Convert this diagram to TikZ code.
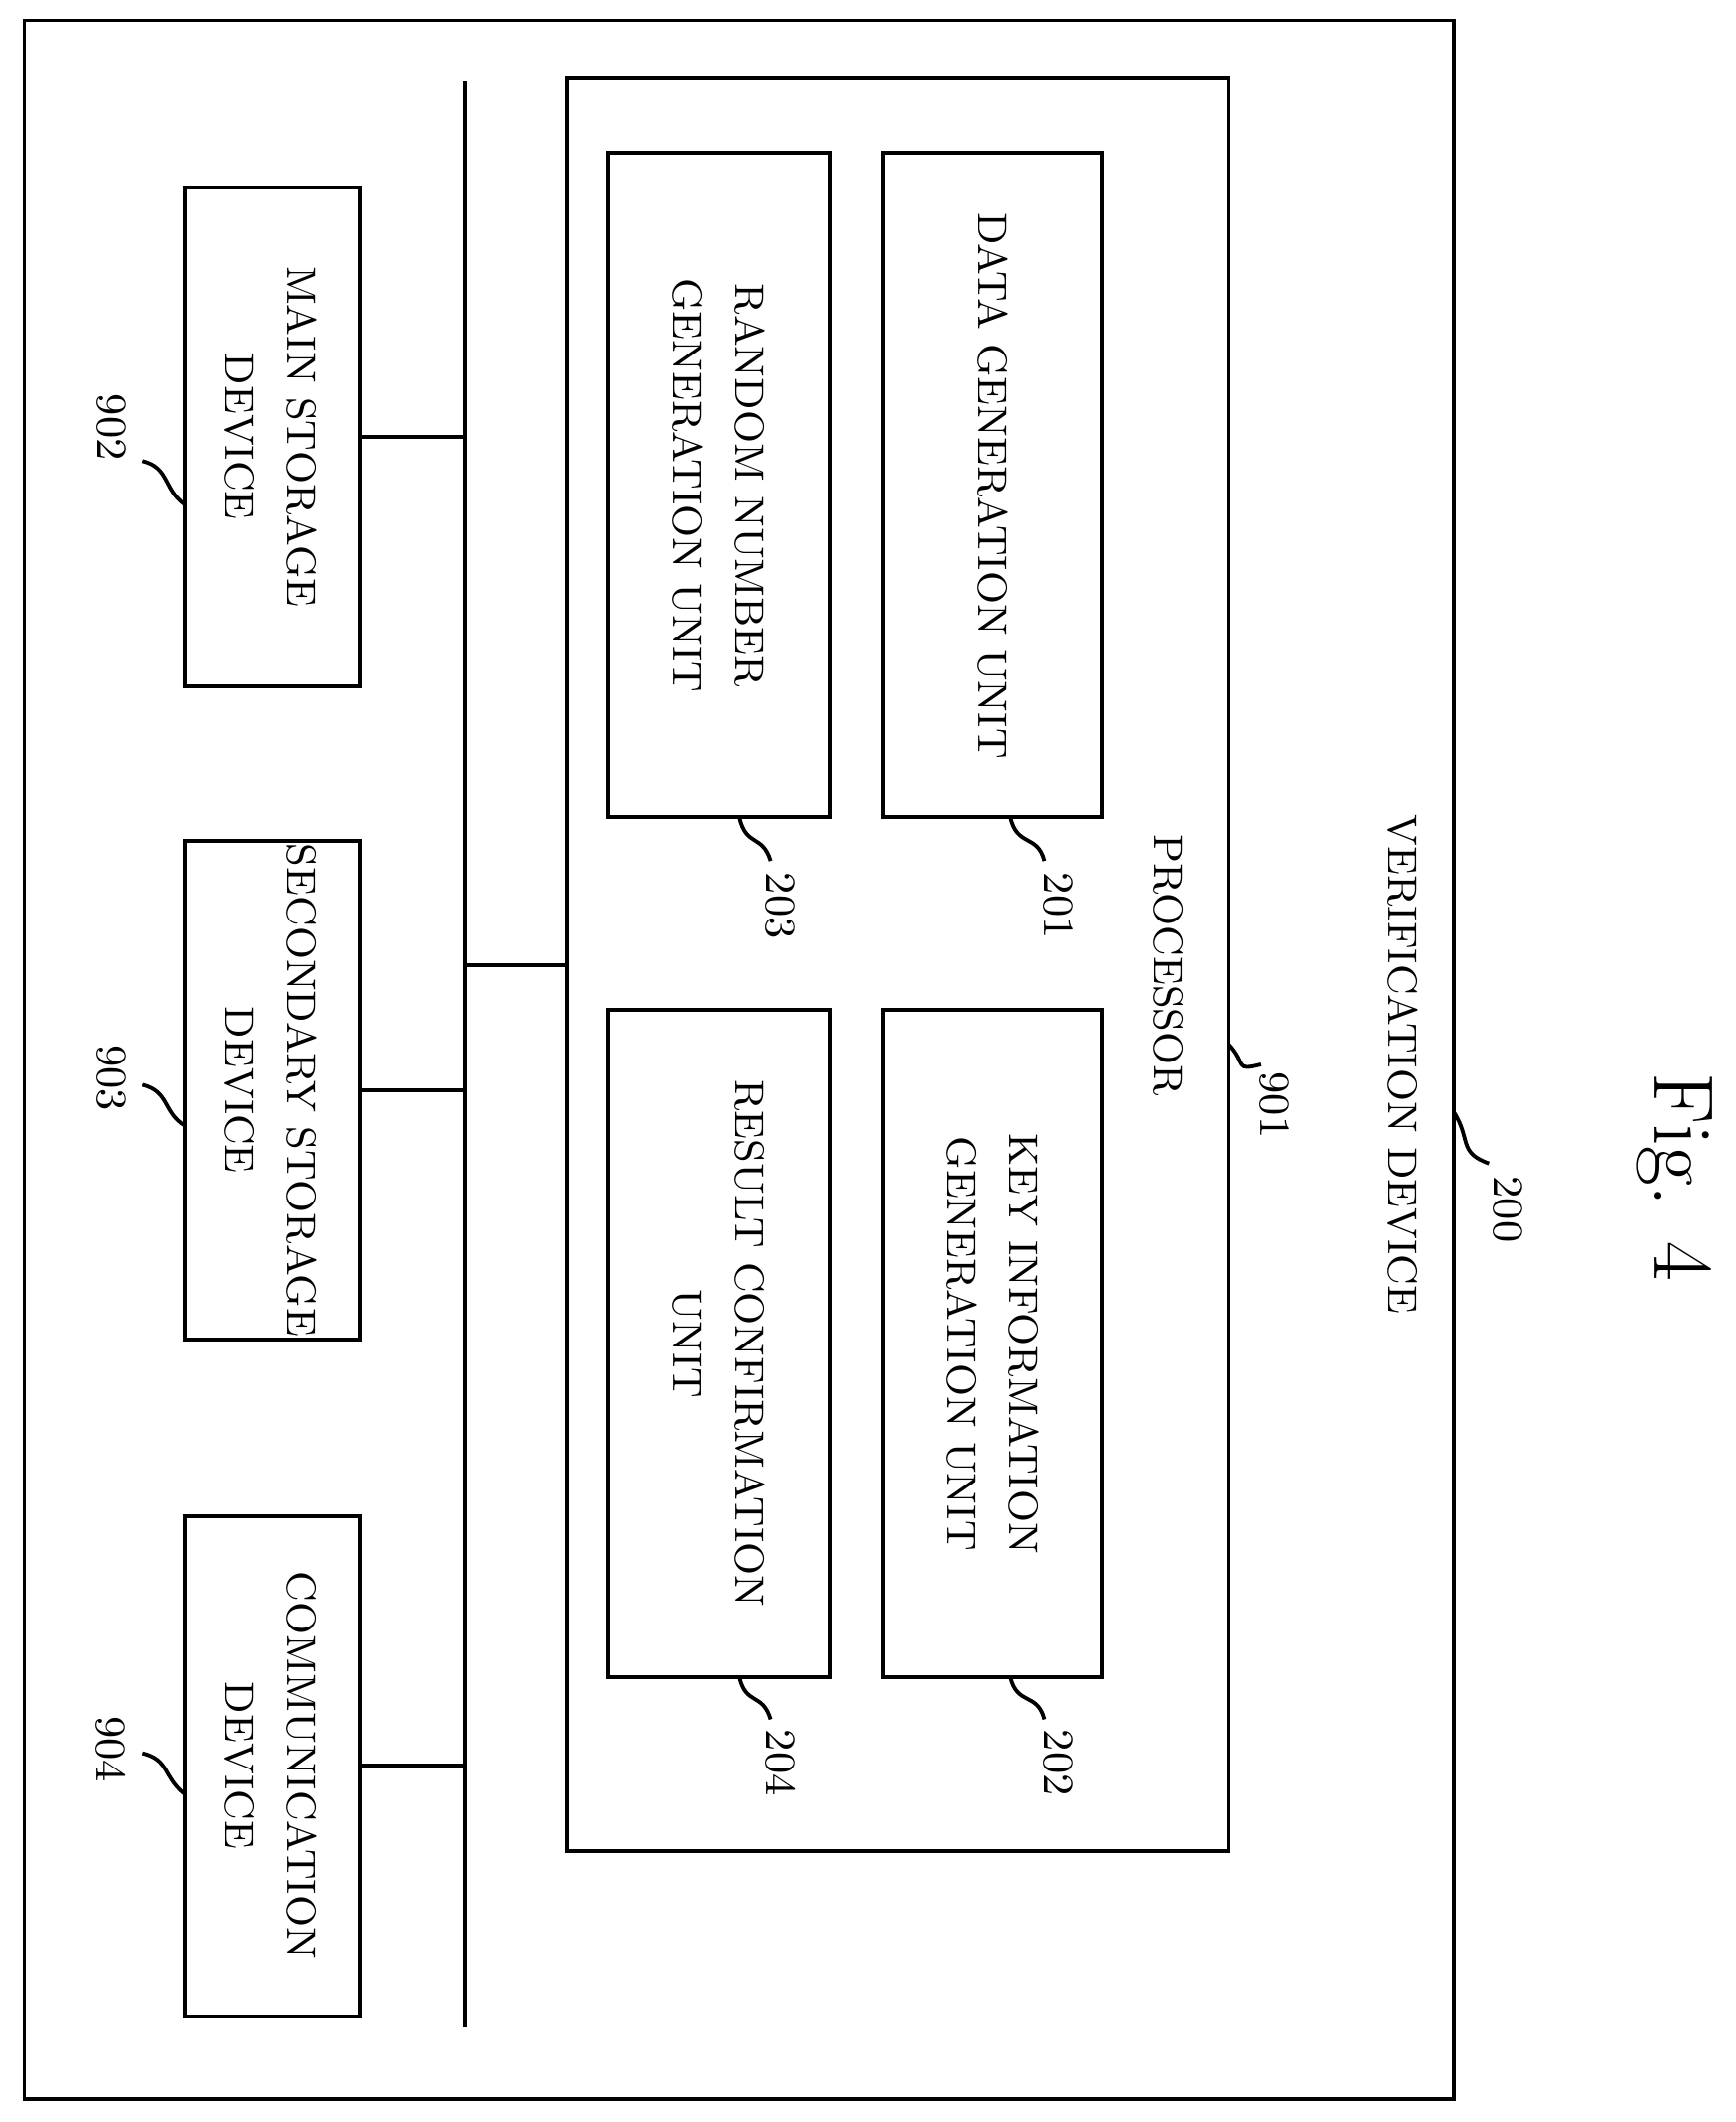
\documentclass[tikz,border=0pt]{standalone}
\usetikzlibrary{positioning}
\begin{document}
\begin{tikzpicture}[x=0.01cm, y=-0.01cm, thick,
    lbl/.style={rotate=-90, align=center, font=\fontsize{8.6}{13}\selectfont},
    refnum/.style={rotate=-90, font=\fontsize{9}{11}\selectfont}]
    \useasboundingbox (0,0) rectangle (1280,1565);

    % Outer device and processor
    \draw (18,15) rectangle (1072,1548);
    \node[lbl] (verif) at (1035,785) {VERIFICATION DEVICE};
    \draw (418,58) rectangle (906,1365);
    \node[lbl] (proc) at (862,712) {PROCESSOR};

    % Units inside processor
    \draw (651,113) rectangle (813,603);
    \node[lbl] (datagen) at (732,358) {DATA GENERATION UNIT};
    \draw (448,113) rectangle (612,603);
    \node[lbl] (randgen) at (530,358) {RANDOM NUMBER\\GENERATION UNIT};
    \draw (651,745) rectangle (813,1237);
    \node[lbl] (keygen) at (732,991) {KEY INFORMATION\\GENERATION UNIT};
    \draw (448,745) rectangle (612,1237);
    \node[lbl] (result) at (530,991) {RESULT CONFIRMATION\\UNIT};

    % Storage and communication devices
    \draw (136,138) rectangle (265,506);
    \node[lbl] (mainst) at (200,322) {MAIN STORAGE\\DEVICE};
    \draw (136,620) rectangle (265,988);
    \node[lbl] (secst) at (200,804) {SECONDARY STORAGE\\DEVICE};
    \draw (136,1118) rectangle (265,1487);
    \node[lbl] (comm) at (200,1302) {COMMUNICATION\\DEVICE};

    % Bus
    \coordinate (bustop) at (343,60);
    \coordinate (busbot) at (343,1495);
    \draw (bustop) -- (busbot);
    \draw (265,322) -- (343,322);
    \draw (265,804) -- (343,804);
    \draw (265,1302) -- (343,1302);
    \draw (343,712) -- (418,712);

    % Reference numerals
    \node[refnum] (n200) at (1112,892) {200};
    \draw (1072,820) .. controls (1085,840) and (1075,850) .. (1098,858);
    \node[refnum] (n901) at (940,815) {901};
    \draw (906,770) .. controls (920,785) and (910,790) .. (930,785);
    \node[refnum] (n201) at (780,668) {201};
    \draw (745,603) .. controls (750,625) and (765,615) .. (770,635);
    \node[refnum] (n203) at (575,668) {203};
    \draw (545,603) .. controls (550,625) and (562,615) .. (568,635);
    \node[refnum] (n202) at (780,1300) {202};
    \draw (745,1237) .. controls (750,1258) and (765,1248) .. (770,1268);
    \node[refnum] (n204) at (575,1300) {204};
    \draw (545,1237) .. controls (550,1258) and (562,1248) .. (568,1268);
    \node[refnum] (n902) at (82,315) {902};
    \draw (136,372) .. controls (120,360) and (125,345) .. (105,340);
    \node[refnum] (n903) at (82,795) {903};
    \draw (136,830) .. controls (120,820) and (125,805) .. (105,800);
    \node[refnum] (n904) at (82,1290) {904};
    \draw (136,1323) .. controls (120,1310) and (125,1298) .. (105,1293);

    \node[rotate=-90, font=\fontsize{18}{22}\selectfont] (fig) at (1235,868) {Fig. 4};
\end{tikzpicture}
\end{document}
